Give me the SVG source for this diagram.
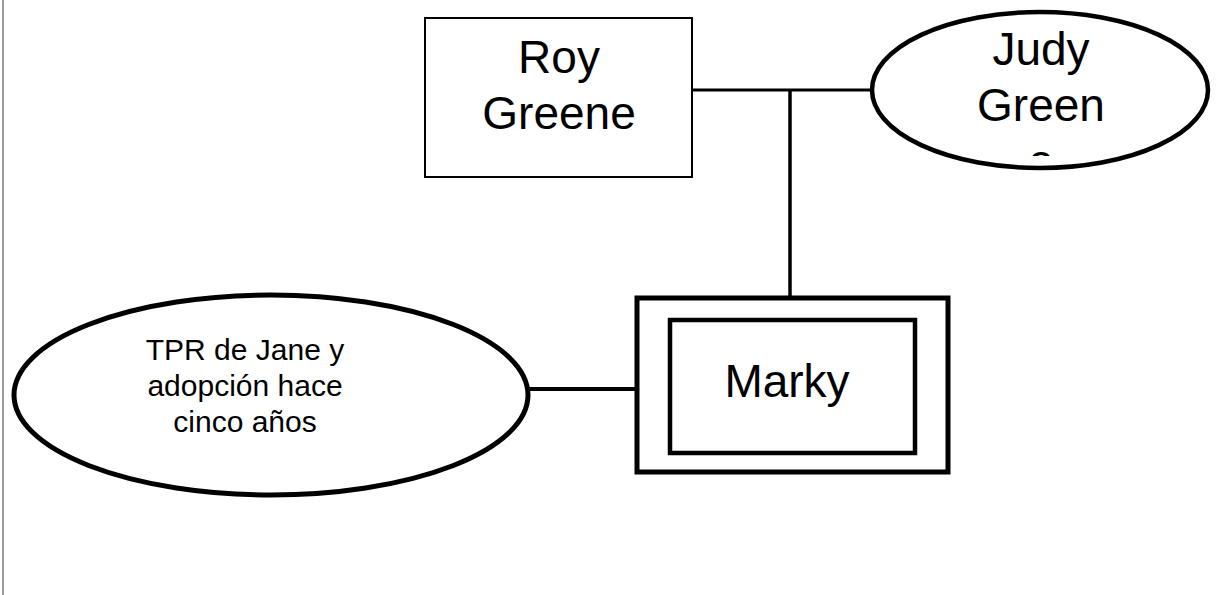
<svg xmlns="http://www.w3.org/2000/svg" width="1222" height="595" viewBox="0 0 1222 595">
<style>
.t{font-family:"Liberation Sans",Arial,sans-serif;fill:#000;text-anchor:middle}
.big{font-size:46px}
.small{font-size:30px}
.shape{fill:#fff;stroke:#000}
.conn{stroke:#000;fill:none}
</style>
<defs>
<clipPath id="judyClip"><rect x="860" y="0" width="362" height="156"/></clipPath>
</defs>
<rect x="0" y="0" width="1222" height="595" fill="#fff"/>
<line x1="3" y1="0" x2="3" y2="595" stroke="#7a7a7a" stroke-width="1.5"/>
<g id="connectors">
<line class="conn" x1="692" y1="90" x2="872" y2="90" stroke-width="3"/>
<line class="conn" x1="790" y1="90" x2="790" y2="298" stroke-width="3.5"/>
<line class="conn" x1="528" y1="389" x2="637" y2="389" stroke-width="4"/>
</g>
<g id="roy">
<rect class="shape" x="425" y="18" width="267" height="159" stroke-width="2"/>
<text class="t big" x="559" y="73">Roy</text>
<text class="t big" x="559" y="129">Greene</text>
</g>
<g id="judy">
<ellipse class="shape" cx="1040" cy="90" rx="168" ry="78" stroke-width="4.5"/>
<g clip-path="url(#judyClip)">
<text class="t big" x="1041" y="65">Judy</text>
<text class="t big" x="1041" y="121">Green</text>
<text class="t big" x="1041" y="177">e</text>
</g>
</g>
<g id="marky">
<rect class="shape" x="637" y="298" width="311" height="174" stroke-width="5"/>
<rect class="shape" x="670" y="320" width="245" height="133" stroke-width="4.5"/>
<text class="t big" x="787" y="397">Marky</text>
</g>
<g id="tpr">
<ellipse class="shape" cx="271" cy="395" rx="257" ry="100" stroke-width="5"/>
<text class="t small" x="245" y="360">TPR de Jane y</text>
<text class="t small" x="245" y="396">adopción hace</text>
<text class="t small" x="245" y="432">cinco años</text>
</g>
</svg>
